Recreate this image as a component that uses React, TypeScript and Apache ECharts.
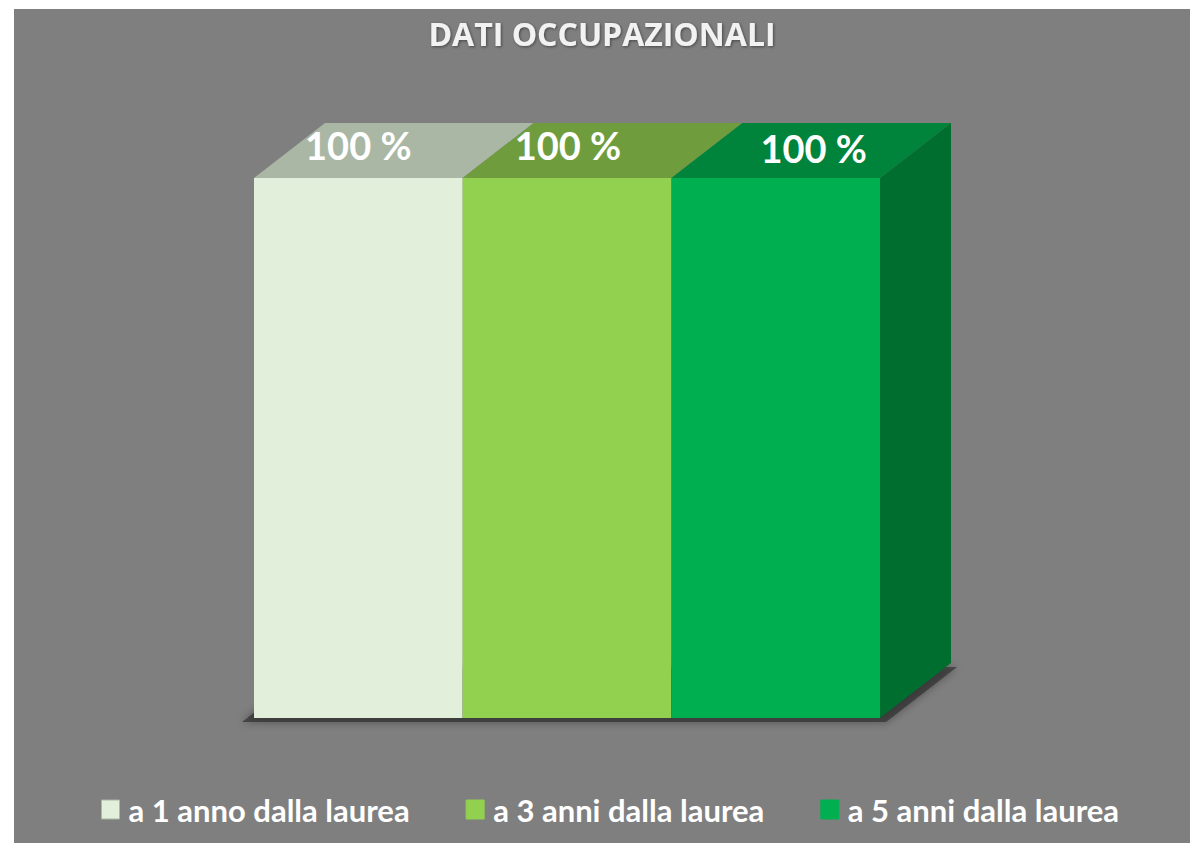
import React, { useEffect, useRef } from "react";
import * as echarts from "echarts";

const categories = ["Dati occupazionali"];
const seriesNames = ["a 1 anno dalla laurea", "a 3 anni dalla laurea", "a 5 anni dalla laurea"];
const values1 = [100];
const values2 = [100];
const values3 = [100];
const titleText = "DATI OCCUPAZIONALI";

const frontColors = ["#E2EFDA", "#92D050", "#00B050"];
const topColors = ["#A9B7A4", "#6F9D3D", "#00843B"];
const sideColor = "#006E2E";
const labelDx = [0, 1, 38];
const labelDy = [-33, -33, -30];
const DX = 71;
const DY = 55;

export default function App() {
  const ref = useRef<HTMLDivElement>(null);
  useEffect(() => {
    if (!ref.current) return;
    const chart = echarts.init(ref.current, undefined, { renderer: "svg" });
    const allValues = [values1, values2, values3];
    const n = allValues.length;

    const renderItem = (params: any, api: any) => {
      const idx = params.seriesIndex;
      const cat = api.value(0);
      const val = api.value(1);
      const base = api.coord([cat, 0]);
      const top = api.coord([cat, val]);
      const band = api.size([1, 0])[0];
      const w = band / n;
      const start = base[0] - band / 2;
      const x0 = start + idx * w;
      const x1 = x0 + w;
      const yB = base[1];
      const yT = top[1];
      const children: any[] = [];
      if (idx === 0) {
        const xe = start + band;
        children.push({
          type: "polygon",
          shape: {
            points: [
              [start - 12, yB + 4],
              [start + DX - 12, yB - DY + 4],
              [xe + DX + 6, yB - DY + 4],
              [xe + 6, yB + 4],
            ],
          },
          style: {
            fill: "rgba(35,35,35,0.6)",
            shadowBlur: 10,
            shadowColor: "rgba(0,0,0,0.6)",
          },
        });
      }
      children.push({
        type: "rect",
        shape: { x: x0, y: yT, width: w, height: yB - yT },
        style: { fill: frontColors[idx] },
      });
      children.push({
        type: "polygon",
        shape: {
          points: [
            [x0, yT],
            [x0 + DX, yT - DY],
            [x1 + DX, yT - DY],
            [x1, yT],
          ],
        },
        style: { fill: topColors[idx] },
      });
      if (idx === n - 1) {
        children.push({
          type: "polygon",
          shape: {
            points: [
              [x1, yT],
              [x1 + DX, yT - DY],
              [x1 + DX, yB - DY],
              [x1, yB],
            ],
          },
          style: { fill: sideColor },
        });
      }
      children.push({
        type: "text",
        style: {
          text: `${val} %`,
          x: (x0 + x1) / 2 + labelDx[idx],
          y: yT + labelDy[idx],
          fill: "#FFFFFF",
          fontSize: 38,
          fontWeight: "bold",
          fontFamily: "Lato",
          align: "center",
          verticalAlign: "middle",
        },
      });
      return { type: "group", children };
    };

    chart.setOption({
      animation: false,
      backgroundColor: "#7F7F7F",
      title: {
        text: titleText,
        left: "center",
        top: 3,
        textStyle: {
          color: "#F2F2F2",
          fontSize: 32,
          fontWeight: "bold",
          fontFamily: "Open Sans",
          textShadowColor: "rgba(0,0,0,0.45)",
          textShadowBlur: 3,
          textShadowOffsetX: 1,
          textShadowOffsetY: 1,
        },
      },
      legend: {
        left: 87,
        top: 785,
        padding: 0,
        itemWidth: 18,
        itemHeight: 19,
        itemGap: 56,
        icon: "rect",
        data: seriesNames.map((name, i) => ({
          name,
          itemStyle: {
            color: frontColors[i],
            borderColor: i === 0 ? "#A9B7A4" : frontColors[i],
            borderWidth: 1,
          },
        })),
        textStyle: {
          color: "#FFFFFF",
          fontSize: 31,
          fontWeight: "bold",
          fontFamily: "Lato",
          padding: [0, 0, 0, 4],
        },
      },
      grid: { left: 240, right: 310, top: 169, bottom: 125 },
      xAxis: {
        type: "category",
        data: categories,
        show: false,
      },
      yAxis: {
        type: "value",
        min: 0,
        max: 100,
        show: false,
      },
      series: allValues.map((vals, i) => ({
        type: "custom",
        name: seriesNames[i],
        itemStyle: { color: frontColors[i] },
        renderItem,
        data: vals.map((v, j) => [j, v]),
      })),
    });
    return () => chart.dispose();
  }, []);

  return (
    <div
      style={{
        position: "absolute",
        left: 0,
        top: 0,
        width: 1190,
        height: 843,
        background: "#FFFFFF",
      }}
    >
      <div
        ref={ref}
        style={{ position: "absolute", left: 14, top: 9, width: 1176, height: 834 }}
      />
    </div>
  );
}
